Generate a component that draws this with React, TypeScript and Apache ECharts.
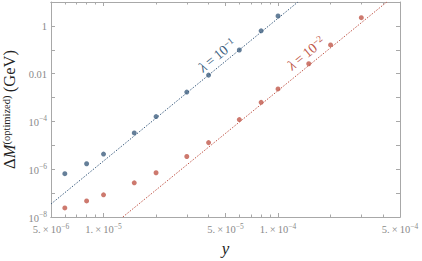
import React, { useEffect, useRef } from "react";
import * as echarts from "echarts";

// coupling y values for each data set
const couplingsLambda1 = [6e-6, 8e-6, 1e-5, 1.5e-5, 2e-5, 3e-5, 4e-5, 6e-5, 8e-5, 1e-4];
const massLambda1 = [6.5e-7, 1.7e-6, 4.3e-6, 3.3e-5, 1.6e-4, 1.7e-3, 8.7e-3, 0.098, 0.62, 2.6];
const couplingsLambda2 = [6e-6, 8e-6, 1e-5, 1.5e-5, 2e-5, 3e-5, 4e-5, 6e-5, 8e-5, 1e-4, 1.5e-4, 2e-4, 3e-4];
const massLambda2 = [2.4e-8, 4.7e-8, 8.5e-8, 2.7e-7, 7.1e-7, 3.4e-6, 1.3e-5, 1.2e-4, 6.3e-4, 2.3e-3, 0.026, 0.16, 2.2];
// fitted power-law lines (end points)
const fitLambda1 = [[5e-6, 3.5e-8], [1.3e-4, 10]];
const fitLambda2 = [[1.29e-5, 1e-8], [4.2e-4, 10]];
// axis ticks
const xMajorTicks = [5e-6, 1e-5, 5e-5, 1e-4, 5e-4];
const xMinorTicks = [6e-6, 7e-6, 8e-6, 9e-6, 2e-5, 3e-5, 4e-5, 6e-5, 7e-5, 8e-5, 9e-5, 2e-4, 3e-4, 4e-4];
const yTicks = [1e-8, 1e-7, 1e-6, 1e-5, 1e-4, 1e-3, 1e-2, 1e-1, 1, 10];
const yLabels = [1e-8, 1e-6, 1e-4, 1e-2, 1];
const xRange = [5e-6, 5e-4];
const yRange = [1e-8, 10];

const BLUE = "#3e5f80";
const RED = "#c0574a";
const FRAME = "#a8a8a8";
const LABEL = "#8a8a8a";
const SERIF = "'Liberation Serif', 'DejaVu Serif', serif";

function expOf(v: number) {
  return Math.floor(Math.log10(v) + 1e-9);
}

function xFormatter(v: number) {
  const e = expOf(v);
  const m = Math.round(v / Math.pow(10, e));
  return `{n|${m}.\u2009×\u200910}{s|\u2212${-e}}`;
}

function yFormatter(v: number) {
  const e = Math.round(Math.log10(v));
  if (e === 0) return "{n|1}";
  if (e === -2) return "{n|0.01}";
  return `{n|10}{s|\u2212${-e}}`;
}

const tickRich = {
  n: { fontFamily: SERIF, fontSize: 10.5, color: LABEL, lineHeight: 13, verticalAlign: "bottom" },
  s: { fontFamily: SERIF, fontSize: 7.5, color: LABEL, lineHeight: 13, verticalAlign: "top" },
};

function xAxisDef(position: "bottom" | "top", ticks: number[], len: number, labels: boolean) {
  return {
    type: "log",
    logBase: 10,
    position,
    min: xRange[0],
    max: xRange[1],
    axisLine: { show: true, onZero: false, lineStyle: { color: FRAME, width: 1 } },
    axisTick: { show: true, inside: true, length: len, customValues: ticks, lineStyle: { color: FRAME, width: 1 } },
    axisLabel: labels
      ? { show: true, customValues: xMajorTicks, formatter: xFormatter, rich: tickRich, margin: 5 }
      : { show: false },
    splitLine: { show: false },
    minorTick: { show: false },
  };
}

function yAxisDef(position: "left" | "right", labels: boolean) {
  return {
    type: "log",
    logBase: 10,
    position,
    min: yRange[0],
    max: yRange[1],
    axisLine: { show: true, onZero: false, lineStyle: { color: FRAME, width: 1 } },
    axisTick: { show: true, inside: true, length: 4, customValues: yTicks, lineStyle: { color: FRAME, width: 1 } },
    axisLabel: labels
      ? { show: true, customValues: yLabels, formatter: yFormatter, rich: tickRich, margin: 4 }
      : { show: false },
    splitLine: { show: false },
    ...(labels
      ? {
          name: "{a|\u0394}{m|M}{s|(optimized)}{a|\u2009(GeV)}",
          nameLocation: "middle",
          nameRotate: 90,
          nameGap: 28,
          nameTextStyle: {
            rich: {
              a: { fontFamily: SERIF, fontSize: 16.5, color: "#222", lineHeight: 17, verticalAlign: "bottom" },
              m: { fontFamily: SERIF, fontSize: 16.5, fontStyle: "italic", color: "#222", lineHeight: 17, verticalAlign: "bottom" },
              s: { fontFamily: SERIF, fontSize: 10.5, color: "#222", lineHeight: 17, verticalAlign: "top" },
            },
          },
        }
      : {}),
  };
}

export default function App() {
  const ref = useRef<HTMLDivElement>(null);
  useEffect(() => {
    if (!ref.current) return;
    const chart = echarts.init(ref.current, undefined, { renderer: "svg" });
    const lambdaRich = (color: string) => ({
      l: { fontFamily: SERIF, fontSize: 14, fontStyle: "italic", fill: color, lineHeight: 15, verticalAlign: "bottom" },
      n: { fontFamily: SERIF, fontSize: 14, fill: color, lineHeight: 15, verticalAlign: "bottom" },
      s: { fontFamily: SERIF, fontSize: 9.5, fill: color, lineHeight: 15, verticalAlign: "top" },
    });
    chart.setOption({
      animation: false,
      backgroundColor: "#fff",
      grid: { left: 51, right: 22, top: 2, bottom: 44, containLabel: false, outerBoundsMode: "none" },
      xAxis: [
        {
          ...xAxisDef("bottom", xMajorTicks, 4, true),
          name: "y",
          nameLocation: "middle",
          nameGap: 21,
          nameTextStyle: { fontFamily: SERIF, fontSize: 17, fontStyle: "italic", color: "#222" },
        },
        xAxisDef("bottom", xMinorTicks, 2.5, false),
        xAxisDef("top", xMajorTicks, 4, false),
        xAxisDef("top", xMinorTicks, 2.5, false),
      ],
      yAxis: [yAxisDef("left", true), yAxisDef("right", false)],
      series: [
        {
          type: "line",
          data: fitLambda1,
          showSymbol: false,
          symbol: "none",
          lineStyle: { color: BLUE, width: 1, type: [1.5, 1.5] },
          silent: true,
        },
        {
          type: "line",
          data: fitLambda2,
          showSymbol: false,
          symbol: "none",
          lineStyle: { color: RED, width: 1, type: [1.5, 1.5] },
          silent: true,
        },
        {
          type: "scatter",
          data: couplingsLambda1.map((c, i) => [c, massLambda1[i]]),
          symbol: "circle",
          symbolSize: 5,
          itemStyle: { color: BLUE },
        },
        {
          type: "scatter",
          data: couplingsLambda2.map((c, i) => [c, massLambda2[i]]),
          symbol: "circle",
          symbolSize: 5,
          itemStyle: { color: RED },
        },
      ],
      graphic: [
        {
          type: "text",
          x: 217,
          y: 55,
          rotation: 0.68,
          style: {
            text: "{l|\u03bb}{n|\u2009=\u200910}{s|\u22121}",
            rich: lambdaRich(BLUE),
            align: "center",
            verticalAlign: "middle",
          },
        },
        {
          type: "text",
          x: 306,
          y: 53,
          rotation: 0.68,
          style: {
            text: "{l|\u03bb}{n|\u2009=\u200910}{s|\u22122}",
            rich: lambdaRich(RED),
            align: "center",
            verticalAlign: "middle",
          },
        },
      ],
    });
    return () => chart.dispose();
  }, []);
  return (
    <div
      ref={ref}
      style={{ position: "fixed", left: 0, top: 0, width: 422, height: 261, background: "#fff" }}
    />
  );
}
